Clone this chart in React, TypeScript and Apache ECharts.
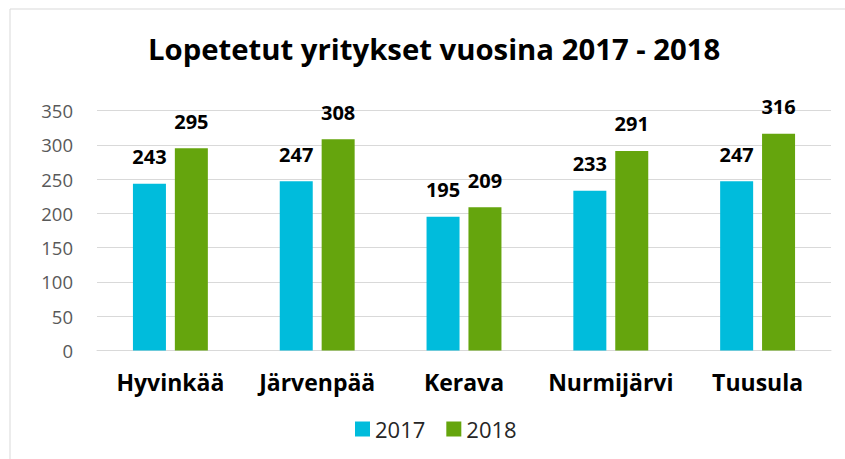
import React, { useEffect, useRef } from "react";
import * as echarts from "echarts";

const categories = ["Hyvinkää", "Järvenpää", "Kerava", "Nurmijärvi", "Tuusula"];
const values2017 = [243, 247, 195, 233, 247];
const values2018 = [295, 308, 209, 291, 316];
const seriesNames = ["2017", "2018"];
const titleText = "Lopetetut yritykset vuosina 2017 - 2018";

const FONT = "'Open Sans', 'Noto Sans', sans-serif";

export default function App() {
  const ref = useRef<HTMLDivElement>(null);
  useEffect(() => {
    if (!ref.current) return;
    const chart = echarts.init(ref.current, null, { renderer: "svg" });
    const labelCfg = {
      show: true,
      position: "top",
      distance: 17,
      fontFamily: FONT,
      fontWeight: "bold",
      fontSize: 20,
      color: "#000000",
    };
    chart.setOption({
      animation: false,
      backgroundColor: "#ffffff",
      title: {
        text: titleText,
        left: 143,
        top: 29,
        textStyle: { fontFamily: FONT, fontWeight: "bold", fontSize: 29.3, color: "#000000" },
      },
      graphic: [
        {
          type: "rect",
          shape: { x: 10, y: 9, width: 860, height: 470 },
          style: { fill: "none", stroke: "#d9d9d9", lineWidth: 1 },
          silent: true,
        },
      ],
      legend: {
        data: seriesNames,
        bottom: 14,
        left: 350,
        itemWidth: 15,
        itemHeight: 15,
        itemGap: 21,
        icon: "rect",
        textStyle: { fontFamily: FONT, fontSize: 22, color: "#262626", padding: [0, 0, 0, 0] },
      },
      grid: { left: 97, right: 14, top: 110.5, bottom: 108.5, containLabel: false },
      xAxis: {
        type: "category",
        data: categories,
        axisLine: { show: true, lineStyle: { color: "#d9d9d9", width: 1 } },
        axisTick: { show: false },
        axisLabel: {
          interval: 0,
          hideOverlap: false,
          margin: 20,
          fontFamily: FONT,
          fontWeight: "bold",
          fontSize: 23,
          color: "#000000",
        },
      },
      yAxis: {
        type: "value",
        min: 0,
        max: 350,
        interval: 50,
        axisLine: { show: false },
        axisTick: { show: false },
        splitLine: { lineStyle: { color: "#d9d9d9", width: 1 } },
        axisLabel: { margin: 24, fontFamily: FONT, fontSize: 18.5, color: "#595959" },
      },
      series: [
        {
          name: seriesNames[0],
          type: "bar",
          data: values2017,
          barWidth: 33,
          barGap: "27%",
          itemStyle: { color: "#00bcdc" },
          label: labelCfg,
        },
        {
          name: seriesNames[1],
          type: "bar",
          data: values2018,
          barWidth: 33,
          barGap: "27%",
          itemStyle: { color: "#65a50d" },
          label: labelCfg,
        },
      ],
    });
    return () => chart.dispose();
  }, []);
  return (
    <div
      ref={ref}
      style={{ position: "fixed", left: 0, top: 0, width: 845, height: 459 }}
    />
  );
}
